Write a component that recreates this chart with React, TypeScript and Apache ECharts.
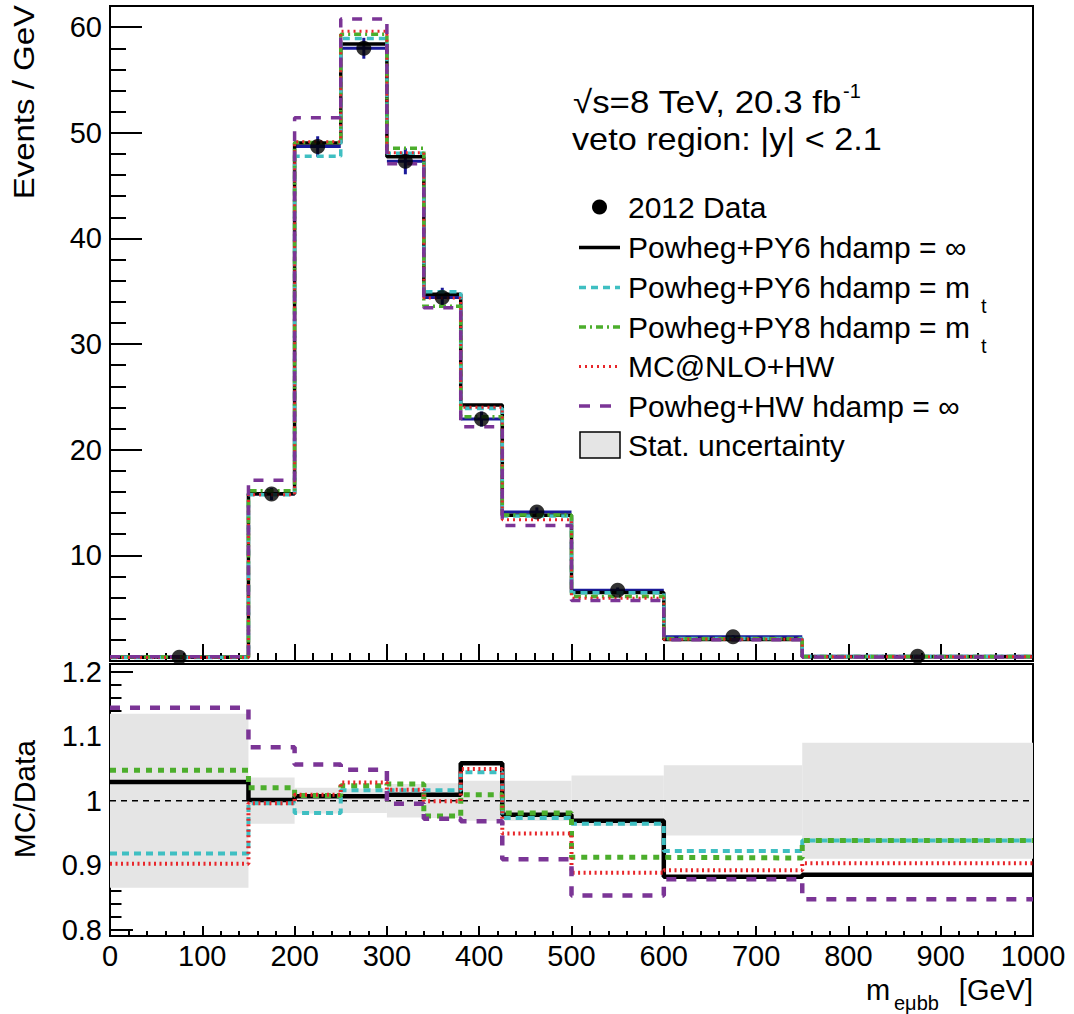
import React, { useEffect, useRef } from "react";
import * as echarts from "echarts";

// ---------- data ----------
const binEdges = [0, 150, 200, 250, 300, 340, 380, 425, 500, 600, 750, 1000];
const dataValues = [0.35, 15.8, 48.7, 58.0, 47.3, 34.4, 22.9, 14.1, 6.7, 2.3, 0.45];
const dataErrors = [0.05, 0.57, 0.97, 0.99, 1.23, 0.93, 0.71, 0.44, 0.26, 0.13, 0.04];

const py6Inf = [0.36, 15.82, 49.04, 58.41, 47.73, 34.71, 24.23, 13.79, 6.49, 2.03, 0.4];
const py6Mt = [0.32, 15.74, 47.77, 58.93, 48.06, 34.95, 23.91, 13.72, 6.46, 2.12, 0.42];
const py8Mt = [0.37, 16.12, 49.09, 59.33, 48.53, 33.57, 23.11, 13.83, 6.11, 2.1, 0.42];
const mcnloHw = [0.32, 15.74, 49.14, 59.62, 48.1, 34.37, 24.02, 13.38, 5.95, 2.05, 0.41];
const powhegHw = [0.4, 17.11, 51.43, 60.78, 47.06, 33.44, 22.17, 12.82, 5.72, 2.02, 0.38];

const ratioPy6Inf = [1.029, 1.001, 1.007, 1.007, 1.009, 1.009, 1.058, 0.978, 0.969, 0.882, 0.885];
const ratioPy6Mt = [0.918, 0.996, 0.981, 1.016, 1.016, 1.016, 1.044, 0.973, 0.964, 0.922, 0.938];
const ratioPy8Mt = [1.047, 1.02, 1.008, 1.023, 1.026, 0.976, 1.009, 0.981, 0.912, 0.911, 0.938];
const ratioMcnloHw = [0.902, 0.996, 1.009, 1.028, 1.017, 0.999, 1.049, 0.949, 0.888, 0.892, 0.903];
const ratioPowhegHw = [1.144, 1.083, 1.056, 1.048, 0.995, 0.972, 0.968, 0.909, 0.853, 0.878, 0.847];
const statLow = [0.865, 0.964, 0.98, 0.981, 0.974, 0.973, 0.969, 0.969, 0.961, 0.946, 0.91];
const statHigh = [1.135, 1.036, 1.02, 1.019, 1.026, 1.027, 1.031, 1.031, 1.039, 1.055, 1.09];

const topYLabels = [10, 20, 30, 40, 50, 60];
const topYMajor = [0, 10, 20, 30, 40, 50, 60];
const ratioYLabels = [0.8, 0.9, 1, 1.1, 1.2];
const unityValue = 1;

const legendNames = [
  "2012 Data",
  "Powheg+PY6 hdamp = ∞",
  "Powheg+PY6 hdamp = m",
  "Powheg+PY8 hdamp = m",
  "MC@NLO+HW",
  "Powheg+HW hdamp = ∞",
  "Stat. uncertainty",
];

// ---------- styles ----------
const FONT = '"Liberation Sans", Arial, Helvetica, sans-serif';
const C_BLACK = "#000000";
const C_CYAN = "#3fbfc2";
const C_GREEN = "#4cae2c";
const C_RED = "#e8262a";
const C_PURPLE = "#7b3596";
const C_BLUE = "#1a1a99";
const C_BAND = "#e5e5e5";

const mcStyles = [
  { color: C_BLACK, top: "solid" as any, ratio: "solid" as any, wTop: 3.5, wRatio: 4.5 },
  { color: C_CYAN, top: [7, 5], ratio: [7, 5], wTop: 3.5, wRatio: 4 },
  { color: C_GREEN, top: [7, 4, 2, 4], ratio: [6, 6], wTop: 3.5, wRatio: 5 },
  { color: C_RED, top: [2, 4], ratio: [2, 3.5], wTop: 3, wRatio: 4 },
  { color: C_PURPLE, top: [10, 10], ratio: [10, 10], wTop: 3.5, wRatio: 4.5 },
];

function stepData(vals: number[]) {
  const pts = vals.map((v, i) => [binEdges[i], v]);
  pts.push([binEdges[binEdges.length - 1], vals[vals.length - 1]]);
  return pts;
}

function range(a: number, b: number, step: number, skip: number[]) {
  const out: number[] = [];
  for (let v = a; v <= b + 1e-9; v += step) {
    const r = Math.round(v * 1000) / 1000;
    if (!skip.some((s) => Math.abs(s - r) < 1e-6)) out.push(r);
  }
  return out;
}

function buildOption() {
  const nBins = dataValues.length;
  const centers = dataValues.map((_, i) => (binEdges[i] + binEdges[i + 1]) / 2);

  const topMinor = range(0, 62, 2, topYMajor);
  const ratioMinor = range(0.8, 1.2, 0.02, ratioYLabels);

  const topSeriesVals = [py6Inf, py6Mt, py8Mt, mcnloHw, powhegHw];
  const ratioSeriesVals = [ratioPy6Inf, ratioPy6Mt, ratioPy8Mt, ratioMcnloHw, ratioPowhegHw];

  const series: any[] = [];

  // data x/y error bars (blue)
  series.push({
    type: "custom",
    xAxisIndex: 0,
    yAxisIndex: 0,
    z: 2,
    silent: true,
    clip: true,
    encode: { x: [0, 1], y: 2 },
    data: dataValues.map((v, i) => [binEdges[i], binEdges[i + 1], v, dataErrors[i]]),
    renderItem: (params: any, api: any) => {
      const x0 = api.value(0);
      const x1 = api.value(1);
      const y = api.value(2);
      const e = api.value(3);
      const xc = (x0 + x1) / 2;
      const a = api.coord([x0, y]);
      const b = api.coord([x1, y]);
      const c = api.coord([xc, y - e]);
      const d = api.coord([xc, y + e]);
      return {
        type: "group",
        children: [
          { type: "line", shape: { x1: a[0], y1: a[1], x2: b[0], y2: b[1] }, style: { stroke: C_BLUE, lineWidth: 3 } },
          { type: "line", shape: { x1: c[0], y1: c[1], x2: d[0], y2: d[1] }, style: { stroke: C_BLUE, lineWidth: 3 } },
        ],
      };
    },
  });

  topSeriesVals.forEach((vals, k) => {
    const s = mcStyles[k];
    series.push({
      type: "line",
      name: legendNames[k + 1],
      xAxisIndex: 0,
      yAxisIndex: 0,
      step: "end",
      symbol: "none",
      showSymbol: false,
      z: 3 + k,
      clip: true,
      silent: true,
      data: stepData(vals),
      lineStyle: { color: s.color, width: s.wTop, type: s.top, cap: "butt" },
    });
  });

  series.push({
    type: "scatter",
    name: legendNames[0],
    xAxisIndex: 0,
    yAxisIndex: 0,
    z: 10,
    symbol: "circle",
    symbolSize: 15,
    silent: true,
    itemStyle: { color: C_BLACK },
    data: centers.map((c, i) => [c, dataValues[i]]),
  });

  // ratio: stat band
  series.push({
    type: "custom",
    name: legendNames[6],
    xAxisIndex: 1,
    yAxisIndex: 2,
    z: 1,
    silent: true,
    clip: true,
    encode: { x: [0, 1], y: [2, 3] },
    data: statLow.map((lo, i) => [binEdges[i], binEdges[i + 1], lo, statHigh[i]]),
    renderItem: (params: any, api: any) => {
      const p0 = api.coord([api.value(0), api.value(3)]);
      const p1 = api.coord([api.value(1), api.value(2)]);
      return {
        type: "rect",
        shape: { x: p0[0], y: p0[1], width: p1[0] - p0[0], height: p1[1] - p0[1] },
        style: { fill: C_BAND },
      };
    },
  });

  // unity dashed line
  series.push({
    type: "line",
    xAxisIndex: 1,
    yAxisIndex: 2,
    symbol: "none",
    z: 2,
    silent: true,
    data: [
      [binEdges[0], unityValue],
      [binEdges[nBins], unityValue],
    ],
    lineStyle: { color: C_BLACK, width: 1.5, type: [6, 5] },
  });

  ratioSeriesVals.forEach((vals, k) => {
    const s = mcStyles[k];
    series.push({
      type: "line",
      xAxisIndex: 1,
      yAxisIndex: 2,
      step: "end",
      symbol: "none",
      showSymbol: false,
      z: 3 + k,
      clip: true,
      silent: true,
      data: stepData(vals),
      lineStyle: { color: s.color, width: s.wRatio, type: s.ratio, cap: "butt" },
    });
  });

  const labelStyle = { color: C_BLACK, fontSize: 29, fontFamily: FONT };

  // ---------- graphic: texts and legend ----------
  const g: any[] = [];
  const txt = (text: string, x: number, y: number, size: number, align = "left", extra: any = {}) => ({
    type: "text",
    x,
    y,
    z: 100,
    silent: true,
    ...extra,
    style: { text, fill: C_BLACK, font: `${size}px ${FONT}`, align, verticalAlign: "middle" },
  });

  g.push(txt("Events / GeV", 24, 5, 30, "right", { rotation: Math.PI / 2, scaleX: 1.1 }));
  g.push(txt("MC/Data", 24, 740, 30, "right", { rotation: Math.PI / 2 }));
  g.push(txt("m", 866, 990, 29));
  g.push(txt("eμbb", 894, 1003, 20));
  g.push(txt("[GeV]", 1033, 990, 29, "right"));

  g.push(txt("√s=8 TeV, 20.3 fb", 573, 102, 32, "left", { scaleX: 1.09 }));
  g.push(txt("-1", 843, 91, 20));
  g.push(txt("veto region: |y| < 2.1", 572, 139, 32, "left", { scaleX: 1.07 }));

  const rowsY = [207, 247.5, 287.5, 327, 366.5, 406, 445];
  const lx0 = 579;
  const lx1 = 620;
  const tx = 628;
  g.push({ type: "circle", z: 100, silent: true, shape: { cx: 599.5, cy: rowsY[0], r: 7.5 }, style: { fill: C_BLACK } });
  mcStyles.forEach((s, k) => {
    const y = rowsY[k + 1];
    g.push({
      type: "line",
      z: 100,
      silent: true,
      shape: { x1: lx0, y1: y, x2: lx1, y2: y },
      style: {
        stroke: s.color,
        lineWidth: k === 3 ? 3 : 3.5,
        lineDash: s.top === "solid" ? null : k === 2 ? [7, 4, 2, 4] : k === 4 ? [11, 10] : s.top,
      },
    });
  });
  g.push({
    type: "rect",
    z: 100,
    silent: true,
    shape: { x: 580, y: 432, width: 40, height: 26 },
    style: { fill: C_BAND, stroke: C_BLACK, lineWidth: 1.5 },
  });
  legendNames.forEach((n, i) => g.push(txt(n, tx, rowsY[i], 30)));
  g.push(txt("t", 981, 306, 20));
  g.push(txt("t", 981, 346, 20));

  return {
    animation: false,
    backgroundColor: "#ffffff",
    textStyle: { fontFamily: FONT },
    grid: [
      { left: 110, top: 6, width: 923, height: 655, show: true, borderColor: C_BLACK, borderWidth: 2, backgroundColor: "transparent" },
      { left: 110, top: 664, width: 923, height: 272, show: true, borderColor: C_BLACK, borderWidth: 2, backgroundColor: "transparent" },
    ],
    xAxis: [
      {
        type: "value",
        gridIndex: 0,
        min: 0,
        max: 1000,
        interval: 100,
        axisLine: { show: true, lineStyle: { color: C_BLACK, width: 2 } },
        axisTick: { show: true, inside: true, length: 17, lineStyle: { color: C_BLACK, width: 2 } },
        minorTick: { show: true, splitNumber: 5, length: 8, lineStyle: { color: C_BLACK, width: 2 } },
        axisLabel: { show: false },
        splitLine: { show: false },
      },
      {
        type: "value",
        gridIndex: 1,
        min: 0,
        max: 1000,
        interval: 100,
        axisLine: { show: true, lineStyle: { color: C_BLACK, width: 2 } },
        axisTick: { show: true, inside: true, length: 10, lineStyle: { color: C_BLACK, width: 2 } },
        minorTick: { show: true, splitNumber: 5, length: 5, lineStyle: { color: C_BLACK, width: 2 } },
        axisLabel: { ...labelStyle, margin: 5, formatter: (v: number) => String(v) },
        splitLine: { show: false },
      },
    ],
    yAxis: [
      {
        type: "value",
        gridIndex: 0,
        position: "left",
        min: 0,
        max: 62,
        axisLine: { show: true, lineStyle: { color: C_BLACK, width: 2 } },
        axisTick: { show: true, inside: true, length: 32, customValues: topYMajor, lineStyle: { color: C_BLACK, width: 2 } },
        axisLabel: { ...labelStyle, margin: 8, customValues: topYLabels, formatter: (v: number) => String(v) },
        splitLine: { show: false },
      },
      {
        type: "value",
        gridIndex: 0,
        position: "left",
        offset: 0,
        min: 0,
        max: 62,
        axisLine: { show: false },
        axisTick: { show: true, inside: true, length: 16, customValues: topMinor, lineStyle: { color: C_BLACK, width: 2 } },
        axisLabel: { show: false },
        splitLine: { show: false },
      },
      {
        type: "value",
        gridIndex: 1,
        position: "left",
        min: 0.79,
        max: 1.212,
        axisLine: { show: true, lineStyle: { color: C_BLACK, width: 2 } },
        axisTick: { show: true, inside: true, length: 23, customValues: ratioYLabels, lineStyle: { color: C_BLACK, width: 2 } },
        axisLabel: {
          ...labelStyle,
          margin: 8,
          customValues: ratioYLabels,
          formatter: (v: number) => String(Math.round(v * 10) / 10),
        },
        splitLine: { show: false },
      },
      {
        type: "value",
        gridIndex: 1,
        position: "left",
        offset: 0,
        min: 0.79,
        max: 1.212,
        axisLine: { show: false },
        axisTick: { show: true, inside: true, length: 11.5, customValues: ratioMinor, lineStyle: { color: C_BLACK, width: 2 } },
        axisLabel: { show: false },
        splitLine: { show: false },
      },
    ],
    series,
    graphic: g,
  };
}

export default function App() {
  const ref = useRef<HTMLDivElement>(null);
  useEffect(() => {
    if (!ref.current) return;
    const chart = echarts.init(ref.current, null, { renderer: "svg" });
    chart.setOption(buildOption() as any);
    return () => chart.dispose();
  }, []);
  return (
    <div
      ref={ref}
      style={{ position: "fixed", left: 0, top: 0, width: 1074, height: 1014, background: "#ffffff" }}
    />
  );
}
